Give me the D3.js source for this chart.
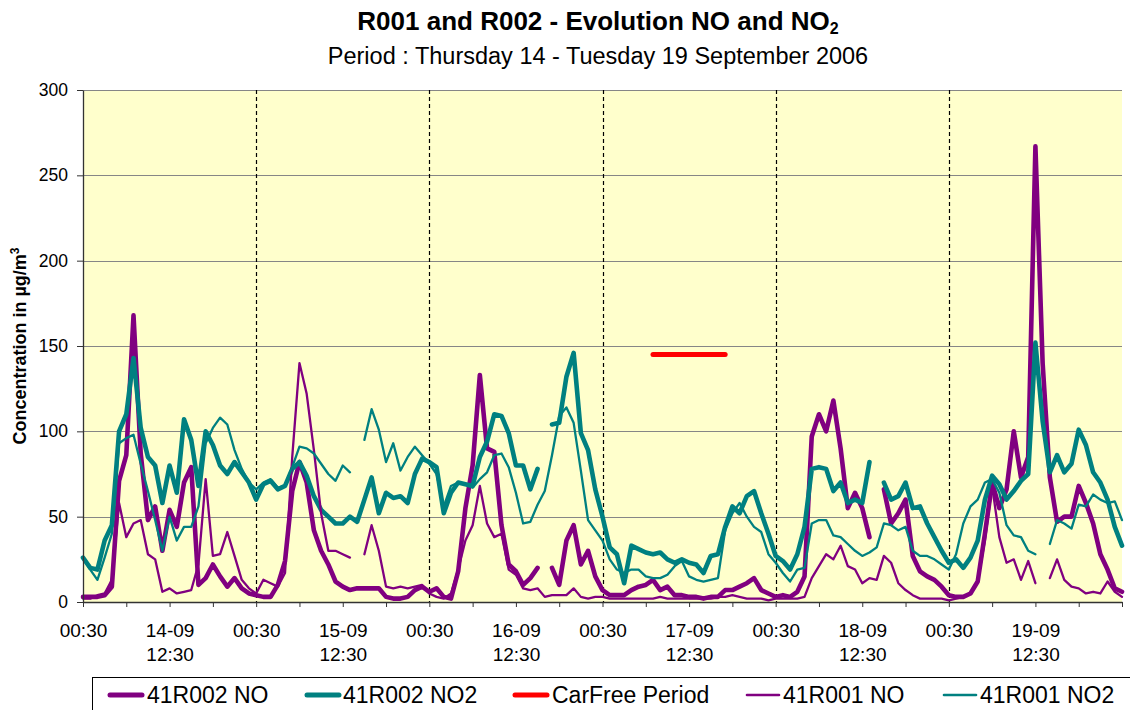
<!DOCTYPE html>
<html>
<head>
<meta charset="utf-8">
<script src="https://cdn.jsdelivr.net/npm/d3@7"></script>
<style>
  body { margin: 0; background: #ffffff; }
  svg text { font-family: "Liberation Sans", Arial, Helvetica, sans-serif; fill: #000; }
</style>
</head>
<body>
<svg id="chart" width="1130" height="710"></svg>
<script>
// Hourly averages, first value at 14-09-2006 00:30, last at 20-09-2006 00:30 (145 values)
const startTime = new Date(2006, 8, 14, 0, 30);
const hoursShown = 144;

// 41R002 NO (µg/m³)
const r002NO = [
  3, 3, 3, 4, 9, 71, 86, 168, 87, 48, 56, 30, 54, 44, 70, 79, 10, 14, 22, 15, 9, 14, 8, 5,
  4, 3, 3, 10, 24, 65, 82, 70, 42, 30, 22, 12, 9, 7, 8, 8, 8, 8, 3, 2, 2, 3, 7, 9,
  6, 8, 3, 2, 18, 55, 80, 133, 90, 88, 45, 22, 18, 10, 14, 20, null, 20, 10, 36, 45, 22, 30, 15,
  7, 4, 4, 4, 7, 9, 10, 13, 7, 9, 4, 4, 3, 3, 2, 3, 3, 7, 7, 9, 11, 14, 7, 5,
  3, 4, 3, 6, 15, 97, 110, 100, 118, 90, 55, 64, 55, 38, null, 66, 46, 52, 60, 27, 18, 15, 13, 9,
  4, 3, 3, 5, 12, 40, 70, 55, 66, 100, 73, 85, 267, 140, 73, 47, 50, 50, 68, 58, 46, 28, 19, 8, 6
];

// 41R002 NO2 (µg/m³)
const r002NO2 = [
  26, 20, 19, 36, 45, 100, 110, 143, 102, 85, 80, 58, 80, 64, 107, 95, 68, 100, 92, 80, 75, 82, 76, 70,
  60, 69, 71, 66, 68, 78, 82, 74, 62, 54, 50, 46, 46, 50, 47, 60, 73, 52, 64, 61, 62, 58, 75, 84,
  82, 79, 52, 64, 70, 69, 68, 85, 94, 110, 109, 99, 80, 80, 66, 78, null, 104, 105, 132, 146, 99, 89, 66,
  50, 32, 28, 11, 33, 31, 29, 28, 29, 25, 23, 25, 23, 22, 17, 27, 28, 44, 56, 52, 62, 65, 52, 40,
  27, 24, 19, 28, 44, 78, 79, 78, 65, 70, 58, 60, 58, 82, null, 70, 60, 62, 70, 55, 56, 46, 38, 30,
  23, 25, 20, 26, 36, 60, 74, 69, 60, 65, 71, 75, 152, 106, 76, 86, 76, 81, 101, 92, 76, 70, 60, 44, 33
];

// 41R001 NO (µg/m³)
const r001NO = [
  2, 2, 4, 5, 13, 58, 38, 46, 48, 28, 25, 6, 8, 5, 6, 7, 22, 72, 27, 28, 41, 27, 13, 8,
  5, 13, 11, 9, 17, 85, 140, 122, 89, 52, 30, 30, 28, 26, null, 28, 45, 30, 9, 8, 9, 8, 9, 10,
  5, 3, 2, 5, 19, 36, 45, 68, 46, 38, 40, 19, 16, 8, 7, 8, 3, 4, 4, 4, 8, 3, 2, 3,
  3, 2, 2, 2, 2, 2, 2, 2, 3, 2, 2, 2, 2, 2, 2, 2, 3, 3, 4, 3, 2, 2, 2, 1,
  2, 2, 2, 2, 3, 14, 21, 28, 25, 33, 21, 19, 11, 14, 13, 27, 23, 11, 7, 4, 2, 2, 2, 2,
  1, 2, 3, 5, 12, 36, 68, 38, 23, 25, 13, 24, 11, null, 14, 25, 13, 9, 8, 5, 6, 5, 12, 6, 3
];

// 41R001 NO2 (µg/m³)
const r001NO2 = [
  26, 19, 13, 26, 40, 93, 96, 98, 81, 65, 48, 30, 50, 36, 44, 44, 56, 93, 102, 108, 104, 89, 78, 70,
  66, 70, 72, 67, 68, 79, 91, 90, 87, 81, 75, 71, 80, 76, null, 95, 113, 101, 82, 93, 77, 85, 91, 86,
  81, 75, 56, 68, 70, 69, 67, 72, 76, 86, 87, 79, 64, 46, 47, 57, 65, 86, 109, 114, 105, 77, 48, 42,
  36, 25, 19, 17, 19, 19, 15, 14, 14, 16, 21, 24, 15, 13, 12, 13, 14, 42, 52, 58, 50, 44, 41, 28,
  23, 17, 12, 19, 20, 46, 48, 48, 39, 38, 34, 30, 27, 29, 32, 46, 45, 42, 44, 30, 27, 27, 25, 22,
  19, 28, 46, 56, 60, 70, 72, 64, 45, 39, 38, 30, 28, null, 34, 48, 46, 43, 57, 56, 63, 60, 58, 59, 48
];

// Car-free period on Sunday 17-09: hour offsets from the start, and the level it is drawn at
const carFreeHours = [79, 89];
const carFreeLevel = 145;

const yTicks = [0, 50, 100, 150, 200, 250, 300];
const seriesNames = ["41R002 NO", "41R002 NO2", "CarFree Period", "41R001 NO", "41R001 NO2"];

// ---------------------------------------------------------------------------
const svg = d3.select("#chart");
const plot = { left: 83, right: 1122, top: 90, bottom: 602 };
const purple = "#800080", teal = "#008080", red = "#ff0000";

const hourAt = i => d3.timeHour.offset(startTime, i);
const x = d3.scaleTime().domain([startTime, hourAt(hoursShown)]).range([plot.left, plot.right]);
const y = d3.scaleLinear().domain([0, 300]).range([plot.bottom, plot.top]);

// plot background
svg.append("rect")
  .attr("x", plot.left).attr("y", plot.top)
  .attr("width", plot.right - plot.left).attr("height", plot.bottom - plot.top)
  .attr("fill", "#ffffcc");

// horizontal gridlines
svg.append("g").selectAll("line")
  .data(yTicks.filter(v => v > 0))
  .join("line")
  .attr("x1", plot.left).attr("x2", plot.right)
  .attr("y1", d => Math.round(y(d)) + 0.5).attr("y2", d => Math.round(y(d)) + 0.5)
  .attr("stroke", "#868686").attr("stroke-width", 1);

// dashed separators at the start of each day
const dayStarts = d3.range(24, hoursShown, 24).map(hourAt);
svg.append("g").selectAll("line")
  .data(dayStarts)
  .join("line")
  .attr("x1", d => Math.round(x(d)) + 0.5).attr("x2", d => Math.round(x(d)) + 0.5)
  .attr("y1", plot.top).attr("y2", plot.bottom)
  .attr("stroke", "#000").attr("stroke-width", 1.2)
  .attr("stroke-dasharray", "4,3");

// series
const toPoints = arr => arr.map((v, i) => ({ t: hourAt(i), v }));
const carFree = d3.range(carFreeHours[0], carFreeHours[1] + 1).map(i => ({ t: hourAt(i), v: carFreeLevel }));

const series = [
  { name: seriesNames[0], points: toPoints(r002NO),  color: purple, width: 4.6 },
  { name: seriesNames[1], points: toPoints(r002NO2), color: teal,   width: 4.6 },
  { name: seriesNames[2], points: carFree,           color: red,    width: 5 },
  { name: seriesNames[3], points: toPoints(r001NO),  color: purple, width: 2.3 },
  { name: seriesNames[4], points: toPoints(r001NO2), color: teal,   width: 2.3 }
];

const line = d3.line()
  .defined(d => d.v != null)
  .x(d => x(d.t))
  .y(d => y(d.v));

svg.append("g").selectAll("path")
  .data(series)
  .join("path")
  .attr("d", d => line(d.points))
  .attr("fill", "none")
  .attr("stroke", d => d.color)
  .attr("stroke-width", d => d.width)
  .attr("stroke-linejoin", "round")
  .attr("stroke-linecap", "round");

// y axis
const yAxis = svg.append("g")
  .attr("transform", `translate(${plot.left},0)`)
  .call(d3.axisLeft(y).tickValues(yTicks).tickSize(6).tickPadding(9).tickSizeOuter(0));
yAxis.select(".domain").attr("stroke", "#333").attr("stroke-width", 1.3);
yAxis.selectAll(".tick line").attr("stroke", "#333");
yAxis.selectAll("text").attr("font-size", "17.5px").style("fill", "#000");

// x axis: a tick every 6 hours, labels at 00:30 and 12:30
const xTickTimes = d3.range(0, hoursShown + 1, 6).map(hourAt);
const fmtDay = d3.timeFormat("%d-%m");
const fmtTime = d3.timeFormat("%H:%M");
const xAxis = svg.append("g")
  .attr("transform", `translate(0,${plot.bottom})`)
  .call(d3.axisBottom(x).tickValues(xTickTimes).tickSize(5).tickPadding(17).tickSizeOuter(0).tickFormat(() => ""));
xAxis.select(".domain").attr("stroke", "#333").attr("stroke-width", 1.3);
xAxis.selectAll(".tick line").attr("stroke", "#333");
xAxis.selectAll(".tick text")
  .attr("font-size", "19px")
  .style("fill", "#000")
  .each(function (d, i) {
    const hour = i * 6;
    const t = d3.select(this);
    if (hour === hoursShown) return;
    if (hour % 24 === 0) {
      t.append("tspan").attr("x", 0).text(fmtTime(d));
    } else if (hour % 24 === 12) {
      t.append("tspan").attr("x", 0).text(fmtDay(d));
      t.append("tspan").attr("x", 0).attr("dy", "1.26em").text(fmtTime(d));
    }
  });

// titles
svg.append("text")
  .attr("x", 598).attr("y", 30)
  .attr("text-anchor", "middle")
  .attr("font-size", "26px").attr("font-weight", "bold")
  .text("R001 and R002 - Evolution NO and NO")
  .append("tspan").attr("font-size", "16px").attr("dy", "4").text("2");

svg.append("text")
  .attr("x", 598).attr("y", 64)
  .attr("text-anchor", "middle")
  .attr("font-size", "23.5px")
  .text("Period : Thursday 14 - Tuesday 19 September 2006");

// y axis title
const yTitle = svg.append("text")
  .attr("transform", `translate(26,${(plot.top + plot.bottom) / 2}) rotate(-90)`)
  .attr("text-anchor", "middle")
  .attr("font-size", "18px").attr("font-weight", "bold");
yTitle.append("tspan").text("Concentration in µg/m");
yTitle.append("tspan").attr("font-size", "12px").attr("dy", "-7").text("3");

// legend
const legendLayout = [
  { lineX: 110, textX: 147 },
  { lineX: 307, textX: 343 },
  { lineX: 515, textX: 552 },
  { lineX: 747, textX: 783 },
  { lineX: 944, textX: 980 }
];
const legend = svg.append("g");
legend.append("rect")
  .attr("x", 92.5).attr("y", 677.5)
  .attr("width", 1100).attr("height", 60)
  .attr("fill", "#fff").attr("stroke", "#000").attr("stroke-width", 1);

const items = legend.selectAll("g.item")
  .data(series)
  .join("g").attr("class", "item");
items.append("line")
  .attr("x1", (d, i) => legendLayout[i].lineX)
  .attr("x2", (d, i) => legendLayout[i].lineX + 32)
  .attr("y1", 695).attr("y2", 695)
  .attr("stroke", d => d.color)
  .attr("stroke-width", d => d.width >= 4 ? 5 : 2.6)
  .attr("stroke-linecap", "round");
items.append("text")
  .attr("x", (d, i) => legendLayout[i].textX)
  .attr("y", 703)
  .attr("font-size", "23px")
  .text(d => d.name);
</script>
</body>
</html>
